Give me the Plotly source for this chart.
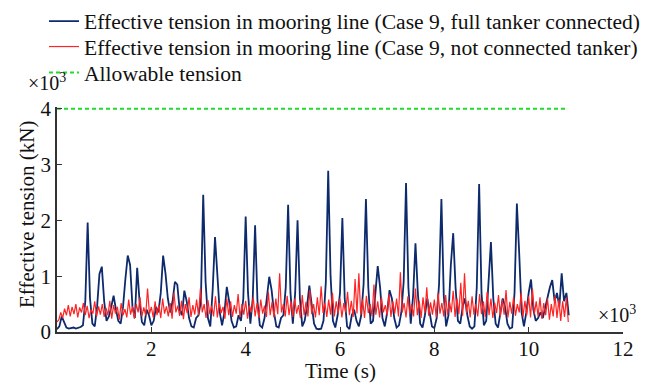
import plotly.graph_objects as go

# ---------------- data ----------------
time_step_blue = 0.05   # ×10^3 s between samples
time_step_red = 0.04

tension_full_tanker = [
    0.05, 0.10, 0.28, 0.18, 0.08, 0.06, 0.07, 0.08, 0.06, 0.07,
    0.09, 0.12, 0.55, 1.96, 0.60, 0.15, 0.10, 0.45, 1.04, 1.17,
    0.55, 0.20, 0.28, 0.45, 0.65, 0.40, 0.20, 0.15, 0.45, 0.95,
    1.37, 1.20, 0.45, 0.25, 1.15, 0.55, 0.18, 0.12, 0.40, 0.30,
    0.12, 0.20, 0.45, 0.35, 0.70, 1.37, 1.05, 0.60, 0.35, 0.55,
    0.90, 0.85, 0.40, 0.30, 0.74, 0.55, 0.25, 0.10, 0.08, 0.25,
    0.30, 0.55, 2.46, 0.90, 0.25, 0.10, 0.75, 1.70, 1.10, 0.35,
    0.12, 0.35, 0.81, 0.55, 0.20, 0.08, 0.10, 0.30, 0.20, 0.60,
    2.07, 0.70, 0.15, 0.60, 1.91, 0.55, 0.12, 0.08, 0.25, 0.60,
    0.99, 0.75, 0.35, 0.10, 0.08, 0.25, 0.30, 0.80, 2.28, 0.70,
    0.15, 0.70, 2.00, 0.60, 0.10, 0.20, 0.45, 0.83, 0.50, 0.15,
    0.06, 0.05, 0.06, 0.20, 0.90, 2.89, 1.00, 0.20, 0.08, 0.30,
    0.70, 2.04, 0.60, 0.10, 0.05, 0.30, 0.40, 0.20, 0.10, 0.30,
    0.85, 2.38, 0.80, 0.15, 0.20, 0.70, 1.18, 0.80, 0.25, 0.10,
    0.35, 0.75, 0.60, 0.25, 0.08, 0.12, 0.35, 0.90, 2.67, 0.80,
    0.15, 0.65, 1.59, 0.70, 0.15, 0.08, 0.30, 0.60, 0.35, 0.10,
    0.07, 0.25, 0.85, 2.38, 0.65, 0.10, 0.30, 1.20, 1.77, 0.80,
    0.20, 0.15, 0.45, 0.60, 0.30, 0.10, 0.06, 0.10, 0.80, 2.65,
    0.70, 0.12, 0.20, 0.90, 1.61, 0.60, 0.15, 0.08, 0.35, 0.60,
    0.45, 0.15, 0.06, 0.08, 0.70, 2.30, 1.40, 0.35, 0.10, 0.35,
    0.70, 0.94, 0.40, 0.20, 0.25, 0.35, 0.25, 0.45, 0.60, 0.80,
    0.93, 0.55, 0.70, 0.45, 1.05, 0.55, 0.70, 0.30,
]

tension_not_connected = [
    0.18, 0.22, 0.35, 0.25, 0.42, 0.30, 0.48, 0.28, 0.45, 0.32, 0.50, 0.26, 0.44, 0.35, 0.52, 0.30, 0.47, 0.25, 0.40, 0.33, 0.55, 0.28, 0.46, 0.31, 0.50,
    0.27, 0.43, 0.30, 0.56, 0.24, 0.48, 0.33, 0.45, 0.22, 0.52, 0.30, 0.41, 0.26, 0.58, 0.31, 0.46, 0.24, 0.50, 0.35, 0.62, 0.28, 0.44, 0.30, 0.78, 0.32,
    0.45, 0.26, 0.55, 0.30, 0.48, 0.25, 0.60, 0.33, 0.46, 0.28, 0.52, 0.24, 0.70, 0.35, 0.47, 0.29, 0.56, 0.23, 0.50, 0.34, 0.62, 0.27, 0.48, 0.31, 0.58,
    0.30, 0.78, 0.35, 0.50, 0.25, 0.57, 0.32, 0.47, 0.28, 0.64, 0.26, 0.52, 0.34, 0.45, 0.24, 0.60, 0.30, 0.55, 0.27, 0.48, 0.33, 0.68, 0.26, 0.50, 0.31,
    0.56, 0.24, 0.48, 0.35, 0.62, 0.28, 0.52, 0.25, 0.58, 0.33, 0.47, 0.27, 0.72, 0.30, 0.54, 0.26, 0.60, 0.32, 1.05, 0.35, 0.50, 0.28, 0.65, 0.30, 0.55,
    0.27, 0.60, 0.33, 0.48, 0.25, 0.66, 0.30, 0.54, 0.28, 0.75, 0.32, 0.50, 0.26, 0.62, 0.30, 0.82, 0.34, 0.52, 0.27, 0.58, 0.31, 0.70, 0.28, 0.55, 0.33,
    0.60, 0.26, 0.52, 0.35, 0.72, 0.30, 0.56, 0.27, 0.95, 0.33, 1.05, 0.30, 0.58, 0.25, 0.65, 0.34, 0.50, 0.28, 0.85, 0.31, 0.55, 0.26, 0.62, 0.35, 0.48,
    0.30, 0.68, 0.27, 0.55, 0.33, 0.60, 0.28, 1.07, 0.35, 0.52, 0.26, 0.64, 0.32, 0.50, 0.28, 0.78, 0.30, 0.56, 0.25, 0.62, 0.34, 0.80, 0.29, 0.53, 0.31,
    0.58, 0.26, 0.70, 0.33, 0.52, 0.28, 0.66, 0.30, 0.55, 0.35, 0.74, 0.27, 0.60, 0.32, 0.88, 0.29, 1.05, 0.34, 0.56, 0.26, 0.64, 0.31, 0.50, 0.28, 0.68,
    0.32, 0.55, 0.27, 0.72, 0.30, 0.60, 0.25, 0.52, 0.34, 0.66, 0.28, 0.58, 0.31, 0.75, 0.26, 0.54, 0.33, 0.62, 0.29, 0.50, 0.35, 0.70, 0.27, 0.56, 0.30,
    0.64, 0.26, 0.78, 0.32, 0.55, 0.28, 0.62, 0.24, 0.52, 0.30, 0.60, 0.22, 0.50, 0.28, 0.65, 0.25, 0.58, 0.20, 0.55, 0.27, 0.62, 0.18,
]

allowable_time = [0.0, 10.8]
allowable_tension = [4.0, 4.0]

x_ticks = [2, 4, 6, 8, 10, 12]
y_ticks = [0, 1, 2, 3, 4]

names = [
    "Effective tension in mooring line (Case 9, full tanker connected)",
    "Effective tension in mooring line (Case 9, not connected tanker)",
    "Allowable tension",
]

# ---------------- figure ----------------
FONT = "'Liberation Serif', 'Times New Roman', Times, serif"
W, H = 648, 385
ML, MR, MT, MB = 57, 25, 107, 53
plot_h = H - MT - MB
plot_w = W - ML - MR
y_bottom_px = H - MB

def px_x(p):
    return (p - ML) / plot_w

def px_y(p):
    return (y_bottom_px - p) / plot_h

fig = go.Figure()
fig.add_trace(go.Scatter(
    y=tension_full_tanker, x0=0, dx=time_step_blue, mode="lines",
    line=dict(color="#0c2a6c", width=1.8), name=names[0], legend="legend",
))
fig.add_trace(go.Scatter(
    y=tension_not_connected, x0=0, dx=time_step_red, mode="lines",
    line=dict(color="#ff2424", width=1.2), name=names[1], legend="legend2",
))
fig.add_trace(go.Scatter(
    x=allowable_time, y=allowable_tension, mode="lines",
    line=dict(color="#1fdd2a", width=2, dash="4px,3px"), name=names[2], legend="legend3",
))

axis_common = dict(
    showgrid=False, zeroline=False, showline=True, linecolor="#333333", linewidth=1.5,
    ticks="inside", ticklen=5, tickcolor="#333333", tickwidth=1.2,
    tickfont=dict(family=FONT, size=21, color="#111111"), mirror=False,
)

def legend_at(row_px):
    return dict(
        x=px_x(44), xanchor="left", y=1 - row_px / H, yref="container", yanchor="middle",
        font=dict(family=FONT, size=21.6, color="#111111"),
        bgcolor="rgba(0,0,0,0)", borderwidth=0,
    )

fig.update_layout(
    width=W, height=H,
    margin=dict(l=ML, r=MR, t=MT, b=MB, autoexpand=False),
    paper_bgcolor="white", plot_bgcolor="white",
    font=dict(family=FONT, color="#111111"),
    xaxis=dict(range=[0, 12], tickvals=x_ticks, ticklabelstandoff=-3, **axis_common),
    yaxis=dict(range=[0, 4.03], tickvals=y_ticks, **axis_common),
    showlegend=True,
    legend=legend_at(21.5),
    legend2=legend_at(47),
    legend3=legend_at(73),
    annotations=[
        dict(text="×10<sup>3</sup>", x=px_x(47), y=px_y(96), xref="paper", yref="paper",
             showarrow=False, font=dict(family=FONT, size=20, color="#111111"),
             xanchor="center", yanchor="bottom"),
        dict(text="×10<sup>3</sup>", x=px_x(617), y=px_y(314), xref="paper", yref="paper",
             showarrow=False, font=dict(family=FONT, size=20, color="#111111"),
             xanchor="center", yanchor="middle"),
        dict(text="Effective tension (kN)", x=px_x(27), y=px_y(215), xref="paper", yref="paper",
             showarrow=False, textangle=-90, font=dict(family=FONT, size=21, color="#111111"),
             xanchor="center", yanchor="middle"),
        dict(text="Time (s)", x=px_x(340), y=px_y(371), xref="paper", yref="paper",
             showarrow=False, font=dict(family=FONT, size=21, color="#111111"),
             xanchor="center", yanchor="middle"),
    ],
)

fig.write_html("out.html")
